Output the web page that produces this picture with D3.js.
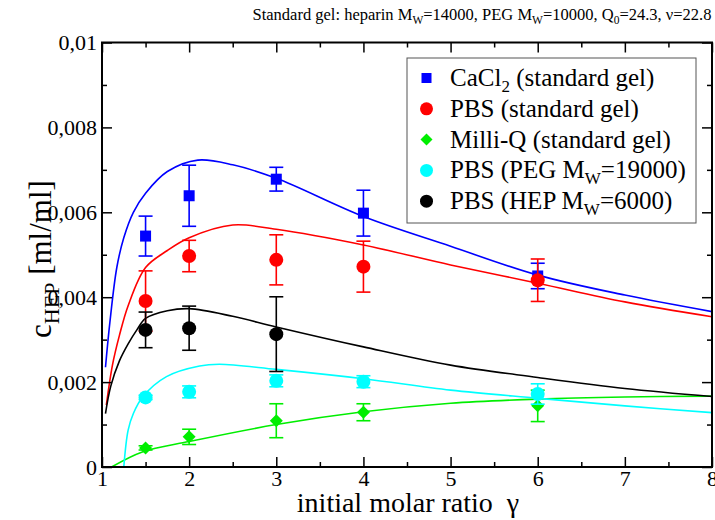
<!DOCTYPE html>
<html>
<head>
<meta charset="utf-8">
<script src="https://cdn.jsdelivr.net/npm/d3@7"></script>
<style>
  body { margin: 0; background: #fff; }
  svg { font-family: "Liberation Serif", "DejaVu Serif", serif; }
</style>
</head>
<body>
<svg></svg>
<script>
// measured points (gamma, c_HEP, error)
let gammaAll = [1.5, 2, 3, 4, 6];
let gammaHep = [1.5, 2, 3];

let cacl2Y = [0.00544, 0.00639, 0.00678, 0.00598, 0.0045];
let cacl2Err = [0.00047, 0.00072, 0.00028, 0.00054, 0.0003];
let pbsY = [0.00391, 0.00497, 0.00488, 0.00472, 0.0044];
let pbsErr = [0.00071, 0.00037, 0.00059, 0.0006, 0.0005];
let milliqY = [0.00045, 0.00071, 0.00109, 0.00129, 0.00144];
let milliqErr = [0.00005, 0.00018, 0.0004, 0.0002, 0.00037];
let pegY = [0.00164, 0.00177, 0.00203, 0.00201, 0.00172];
let pegErr = [0.00005, 0.00014, 0.00014, 0.00014, 0.00024];
let hepY = [0.00323, 0.00327, 0.00313];
let hepErr = [0.00042, 0.00052, 0.00088];

// model curves
let fitCacl2 = [[1.04,0.00235],[1.09,0.0034],[1.17,0.0047],[1.25,0.0054],[1.36,0.006],[1.5,0.00645],[1.75,0.00696],[2.1,0.00723],[2.5,0.00712],[3,0.0068],[4,0.0059],[5,0.0052],[6,0.00452],[7,0.00405],[8,0.00366]];
let fitPbs = [[1.05,0.00146],[1.12,0.0024],[1.2,0.0031],[1.3,0.0038],[1.5,0.0047],[1.75,0.0051],[2,0.0054],[2.5,0.0057],[3,0.0056],[4,0.00523],[5,0.00476],[6,0.00433],[7,0.00389],[8,0.00354]];
let fitMilliq = [[1.11,0],[1.47,0.00036],[2,0.0006],[3,0.001],[4,0.0013],[5,0.0015],[6,0.0016],[7,0.00165],[8,0.00167]];
let fitPeg = [[1.25,0],[1.3,0.00087],[1.36,0.00126],[1.47,0.00166],[1.74,0.00213],[2.12,0.00238],[2.35,0.00242],[3,0.0023],[4,0.00208],[5,0.00181],[6,0.00162],[7,0.00144],[8,0.00128]];
let fitHep = [[1.04,0.00126],[1.1,0.0019],[1.2,0.0025],[1.3,0.0029],[1.4,0.00323],[1.5,0.0035],[1.75,0.00368],[2,0.00373],[2.5,0.00355],[3,0.0033],[4,0.00283],[5,0.0024],[6,0.00211],[7,0.00185],[8,0.00166]];

let xTicks = [1, 2, 3, 4, 5, 6, 7, 8];
let yTicks = [0, 0.002, 0.004, 0.006, 0.008, 0.01];

let series = [
  { name: 'CaCl', sub: '2', rest: ' (standard gel)', color: '#0000ff', shape: 'square', x: gammaAll, y: cacl2Y, err: cacl2Err, fit: fitCacl2 },
  { name: 'PBS (standard gel)', color: '#ff0000', shape: 'circle', x: gammaAll, y: pbsY, err: pbsErr, fit: fitPbs },
  { name: 'Milli-Q (standard gel)', color: '#00ee00', shape: 'diamond', x: gammaAll, y: milliqY, err: milliqErr, fit: fitMilliq },
  { name: 'PBS (PEG M', sub: 'W', rest: '=19000)', color: '#00ffff', shape: 'circle', x: gammaAll, y: pegY, err: pegErr, fit: fitPeg },
  { name: 'PBS (HEP M', sub: 'W', rest: '=6000)', color: '#000000', shape: 'circle', x: gammaHep, y: hepY, err: hepErr, fit: fitHep }
];

let width = 715, height = 520;
let plotLeft = 102, plotRight = 712, plotTop = 42.5, plotBottom = 467;

let svg = d3.select('svg')
    .attr('width', width)
    .attr('height', height);

let xScale = d3.scaleLinear().domain([1, 8]).range([plotLeft, plotRight]);
let yScale = d3.scaleLinear().domain([0, 0.01]).range([plotBottom, plotTop]);

let fmt = d => d === 0 ? '0' : String(+d.toFixed(3)).replace('.', ',');

// clip for curves
svg.append('clipPath').attr('id', 'clip')
  .append('rect')
  .attr('x', plotLeft).attr('y', plotTop)
  .attr('width', plotRight - plotLeft).attr('height', plotBottom - plotTop);

// curves
let line = d3.line()
    .x(d => xScale(d[0]))
    .y(d => yScale(d[1]))
    .curve(d3.curveCatmullRom.alpha(0.5));

svg.append('g').attr('clip-path', 'url(#clip)')
  .selectAll('path')
  .data(series)
  .enter()
  .append('path')
  .attr('d', s => line(s.fit))
  .attr('fill', 'none')
  .attr('stroke', s => s.color)
  .attr('stroke-width', 1.6);

// markers
function drawMarker(g, shape, color, cx, cy) {
  if (shape === 'square') {
    g.append('rect').attr('x', cx - 5.5).attr('y', cy - 5.5).attr('width', 11).attr('height', 11).attr('fill', color);
  } else if (shape === 'diamond') {
    g.append('path').attr('d', `M${cx},${cy-6.5}L${cx+6.5},${cy}L${cx},${cy+6.5}L${cx-6.5},${cy}Z`).attr('fill', color);
  } else {
    g.append('circle').attr('cx', cx).attr('cy', cy).attr('r', 7).attr('fill', color);
  }
}

series.forEach(s => {
  let g = svg.append('g');
  s.x.forEach((xv, i) => {
    let cx = xScale(xv);
    let y0 = yScale(s.y[i] - s.err[i]), y1 = yScale(s.y[i] + s.err[i]);
    g.append('line').attr('x1', cx).attr('x2', cx).attr('y1', y0).attr('y2', y1)
      .attr('stroke', s.color).attr('stroke-width', 1.6);
    [y0, y1].forEach(yy => {
      g.append('line').attr('x1', cx - 7).attr('x2', cx + 7).attr('y1', yy).attr('y2', yy)
        .attr('stroke', s.color).attr('stroke-width', 1.6);
    });
    drawMarker(g, s.shape, s.color, cx, yScale(s.y[i]));
  });
});

// axes with inward ticks on all four sides
let xMinor = d3.range(1.5, 8, 1);
let yMinor = [0.001, 0.003, 0.005, 0.007, 0.009];

function styleAxis(g) {
  g.attr('font-family', null).attr('font-size', null);
  g.selectAll('path.domain').remove();
  g.selectAll('line').attr('stroke', '#000').attr('stroke-width', 1.5);
  g.selectAll('text').attr('font-size', 22).attr('fill', '#000');
}

svg.append('g').attr('transform', `translate(0,${plotBottom})`)
  .call(d3.axisBottom(xScale).tickValues(xTicks).tickSize(-10).tickPadding(3).tickFormat(d3.format('d')))
  .call(styleAxis);
svg.append('g').attr('transform', `translate(0,${plotBottom})`)
  .call(d3.axisBottom(xScale).tickValues(xMinor).tickSize(-5).tickFormat(''))
  .call(styleAxis);
svg.append('g').attr('transform', `translate(0,${plotTop})`)
  .call(d3.axisTop(xScale).tickValues(xTicks).tickSize(-10).tickFormat(''))
  .call(styleAxis);
svg.append('g').attr('transform', `translate(0,${plotTop})`)
  .call(d3.axisTop(xScale).tickValues(xMinor).tickSize(-5).tickFormat(''))
  .call(styleAxis);

svg.append('g').attr('transform', `translate(${plotLeft},0)`)
  .call(d3.axisLeft(yScale).tickValues(yTicks).tickSize(-10).tickPadding(5).tickFormat(fmt))
  .call(styleAxis);
svg.append('g').attr('transform', `translate(${plotLeft},0)`)
  .call(d3.axisLeft(yScale).tickValues(yMinor).tickSize(-5).tickFormat(''))
  .call(styleAxis);
svg.append('g').attr('transform', `translate(${plotRight},0)`)
  .call(d3.axisRight(yScale).tickValues(yTicks).tickSize(-10).tickFormat(''))
  .call(styleAxis);
svg.append('g').attr('transform', `translate(${plotRight},0)`)
  .call(d3.axisRight(yScale).tickValues(yMinor).tickSize(-5).tickFormat(''))
  .call(styleAxis);

// frame
svg.append('rect')
  .attr('x', plotLeft).attr('y', plotTop)
  .attr('width', plotRight - plotLeft).attr('height', plotBottom - plotTop)
  .attr('fill', 'none').attr('stroke', '#000').attr('stroke-width', 2);

// legend
let lg = svg.append('g');
lg.append('rect')
  .attr('x', 407).attr('y', 58).attr('width', 289).attr('height', 165)
  .attr('fill', '#fff').attr('stroke', '#555').attr('stroke-width', 1);

series.forEach((s, i) => {
  let yy = 78 + i * 30.8;
  let g = lg.append('g');
  if (s.shape === 'square') {
    g.append('rect').attr('x', 421.5).attr('y', yy - 5).attr('width', 10).attr('height', 10).attr('fill', s.color);
  } else if (s.shape === 'diamond') {
    g.append('path').attr('d', `M426.5,${yy-6}L432.5,${yy}L426.5,${yy+6}L420.5,${yy}Z`).attr('fill', s.color);
  } else {
    g.append('circle').attr('cx', 426.5).attr('cy', yy).attr('r', 6.5).attr('fill', s.color);
  }
  let t = g.append('text').attr('x', 450).attr('y', yy + 8).attr('font-size', 25).attr('fill', '#000');
  t.append('tspan').text(s.name);
  if (s.sub) {
    t.append('tspan').attr('font-size', 17).attr('dy', 6).text(s.sub);
    t.append('tspan').attr('dy', -6).text(s.rest);
  }
});

// title
let title = svg.append('text').attr('x', 482).attr('y', 20)
  .attr('text-anchor', 'middle').attr('font-size', 16.5).attr('fill', '#000');
title.append('tspan').text('Standard gel: heparin M');
title.append('tspan').attr('font-size', 11.5).attr('dy', 4).text('W');
title.append('tspan').attr('dy', -4).text('=14000, PEG M');
title.append('tspan').attr('font-size', 11.5).attr('dy', 4).text('W');
title.append('tspan').attr('dy', -4).text('=10000, Q');
title.append('tspan').attr('font-size', 11.5).attr('dy', 4).text('0');
title.append('tspan').attr('dy', -4).text('=24.3, ν=22.8');

// axis labels
svg.append('text').attr('x', 408).attr('y', 512)
  .attr('text-anchor', 'middle').attr('font-size', 28).attr('fill', '#000')
  .text('initial molar ratio\u00a0\u00a0γ');

let yl = svg.append('text')
  .attr('transform', 'translate(51,259) rotate(-90)')
  .attr('text-anchor', 'middle').attr('font-size', 31).attr('fill', '#000');
yl.append('tspan').text('c');
yl.append('tspan').attr('font-size', 22).attr('dy', 8).text('HEP');
yl.append('tspan').attr('dy', -8).text(' [ml/ml]');
</script>
</body>
</html>
